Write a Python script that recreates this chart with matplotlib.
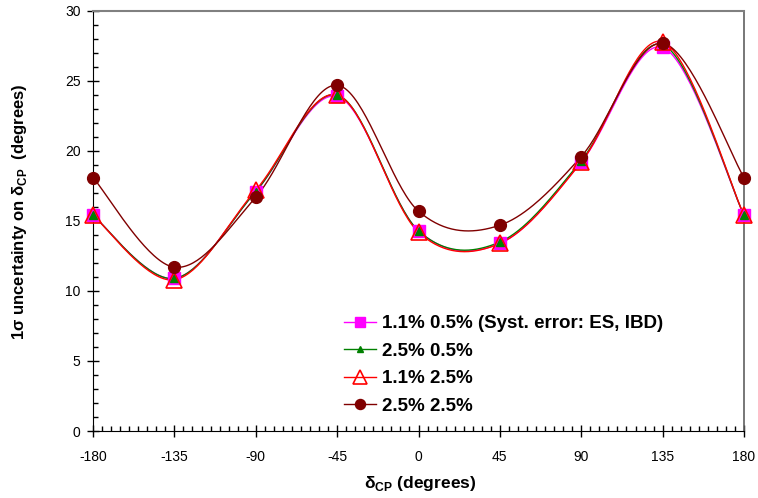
import matplotlib
matplotlib.use("Agg")
import matplotlib.pyplot as plt
import matplotlib.ticker as tck
import numpy as np

plt.rcParams['font.family'] = ['Liberation Sans', 'DejaVu Sans']
plt.rcParams['mathtext.fontset'] = 'custom'
plt.rcParams['mathtext.rm'] = 'Liberation Sans'
plt.rcParams['mathtext.bf'] = 'Liberation Sans:bold'
plt.rcParams['axes.unicode_minus'] = False

# ------ values:
delta_cp = [-180, -135, -90, -45, 0, 45, 90, 135, 180]
s11_05 = [15.4, 10.9, 17.1, 23.9, 14.3, 13.4, 19.2, 27.4, 15.4]
s25_05 = [15.4, 10.9, 17.1, 24.0, 14.3, 13.5, 19.3, 27.6, 15.4]
s11_25 = [15.4, 10.8, 17.2, 24.0, 14.2, 13.4, 19.2, 27.8, 15.4]
s25_25 = [18.1, 11.7, 16.7, 24.7, 15.7, 14.7, 19.6, 27.7, 18.1]
labels = ["1.1% 0.5% (Syst. error: ES, IBD)", "2.5% 0.5%", "1.1% 2.5%", "2.5% 2.5%"]
# ------------


def smooth(x, y, n=40):
    # excel-like smoothed line (catmull-rom bezier through the points)
    x = np.asarray(x, float)
    y = np.asarray(y, float)
    px = np.concatenate([[x[0]], x, [x[-1]]])
    py = np.concatenate([[y[0]], y, [y[-1]]])
    t = np.linspace(0, 1, n)
    xs, ys = [], []
    for i in range(1, len(px) - 2):
        p0 = np.array([px[i], py[i]])
        p3 = np.array([px[i + 1], py[i + 1]])
        p1 = p0 + (np.array([px[i + 1], py[i + 1]]) - np.array([px[i - 1], py[i - 1]])) / 6
        p2 = p3 - (np.array([px[i + 2], py[i + 2]]) - np.array([px[i], py[i]])) / 6
        b = ((1 - t) ** 3)[:, None] * p0 + (3 * (1 - t) ** 2 * t)[:, None] * p1 \
            + (3 * (1 - t) * t ** 2)[:, None] * p2 + (t ** 3)[:, None] * p3
        xs.extend(b[:, 0])
        ys.extend(b[:, 1])
    return xs, ys


fig = plt.figure(figsize=(7.58, 4.98), dpi=100)
ax = fig.add_axes([93 / 758, 1 - 431 / 498, (744 - 93) / 758, (431 - 11) / 498])

styles = [
    dict(color="#FF00FF", marker="s", ms=8.5, mfc="#FF00FF", mec="#FF00FF"),
    dict(color="#008000", marker="^", ms=5.5, mfc="#008000", mec="#008000"),
    dict(color="#FF0000", marker="^", ms=12, mfc="none", mec="#FF0000", mew=1.2),
    dict(color="#800000", marker="o", ms=8.5, mfc="#800000", mec="#800000"),
]
series = [s11_05, s25_05, s11_25, s25_25]
for vals, st, lab in zip(series, styles, labels):
    sx, sy = smooth(delta_cp, vals)
    ax.plot(sx, sy, color=st["color"], lw=1.0)
    ax.plot(delta_cp, vals, ls="none", marker=st["marker"], ms=st["ms"],
            mfc=st["mfc"], mec=st["mec"], mew=st.get("mew", 1.0), clip_on=False, zorder=3)
    ax.plot([], [], color=st["color"], lw=1.0, marker=st["marker"], ms=st["ms"] * 0.85,
            mfc=st["mfc"], mec=st["mec"], mew=st.get("mew", 1.0), label=lab)

ax.set_xlim(-180, 180)
ax.set_ylim(0, 30)
ax.xaxis.set_major_locator(tck.MultipleLocator(45))
ax.xaxis.set_minor_locator(tck.MultipleLocator(5))
ax.yaxis.set_major_locator(tck.MultipleLocator(5))
ax.yaxis.set_minor_locator(tck.MultipleLocator(1))
ax.tick_params(which="major", direction="inout", length=8, width=1, labelsize=10)
ax.tick_params(which="minor", direction="in", length=3.5, width=1)
ax.tick_params(axis="x", which="major", pad=10)
ax.tick_params(axis="y", which="major", pad=5)

ax.spines["top"].set_color("#808080")
ax.spines["right"].set_color("#606060")
ax.spines["top"].set_linewidth(1.5)
ax.spines["right"].set_linewidth(1.2)

ax.set_xlabel(r"δ$_{\mathbf{CP}}$ (degrees)", fontsize=12.5, fontweight="bold")
ax.set_ylabel(r"1σ uncertainty on δ$_{\mathbf{CP}}$  (degrees)", fontsize=12,
              fontweight="bold")
ax.xaxis.set_label_coords((420 - 93) / 651, -(483 - 431) / 420)
ax.yaxis.set_label_coords(-(93 - 20) / 651, (431 - 212) / 420)
ax.xaxis.label.set_va("center")
ax.yaxis.label.set_va("center")

leg = ax.legend(loc="upper left", bbox_to_anchor=(344 / 758, 1 - 315 / 498),
                bbox_transform=fig.transFigure, frameon=False,
                prop={"size": 13.5, "weight": "bold"}, handlelength=1.7,
                handletextpad=0.3, labelspacing=0.56, borderaxespad=0, borderpad=0)

fig.savefig("out.png", dpi=100)
